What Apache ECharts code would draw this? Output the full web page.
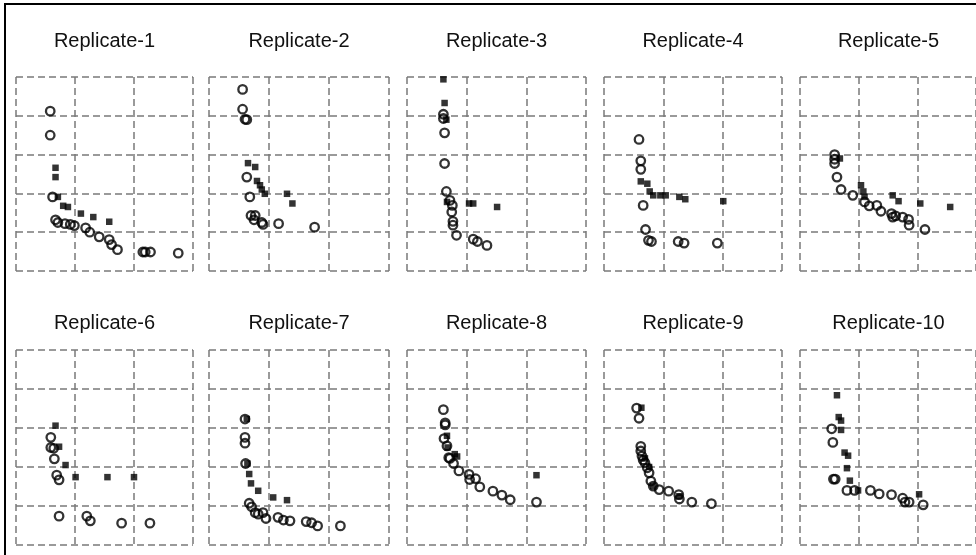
<!DOCTYPE html>
<html>
<head>
<meta charset="utf-8">
<script src="https://cdn.jsdelivr.net/npm/echarts@6/dist/echarts.min.js"></script>
<style>
html,body{margin:0;padding:0;background:#fff;}
#chart{width:976px;height:555px;}
</style>
</head>
<body>
<div id="chart"></div>
<script>
const panelTitles = ["Replicate-1","Replicate-2","Replicate-3","Replicate-4","Replicate-5",
                     "Replicate-6","Replicate-7","Replicate-8","Replicate-9","Replicate-10"];

const rep1Circles = [[0.58,4.12],[0.58,3.50],[0.62,1.91],[0.67,1.32],[0.71,1.25],[0.83,1.22],[0.92,1.20],[0.99,1.17],[1.18,1.11],[1.25,1.00],[1.41,0.88],[1.58,0.81],[1.62,0.68],[1.72,0.55],[2.15,0.49],[2.19,0.49],[2.28,0.49],[2.75,0.46]];
const rep1Squares = [[0.67,2.66],[0.67,2.42],[0.71,1.91],[0.80,1.68],[0.88,1.65],[1.10,1.48],[1.31,1.39],[1.58,1.27]];

const rep2Circles = [[0.56,4.68],[0.56,4.17],[0.60,3.91],[0.63,3.90],[0.63,2.42],[0.68,1.91],[0.70,1.43],[0.77,1.43],[0.75,1.32],[0.88,1.25],[0.90,1.20],[1.16,1.22],[1.76,1.13]];
const rep2Squares = [[0.65,2.78],[0.77,2.68],[0.80,2.32],[0.85,2.21],[0.88,2.10],[0.93,1.99],[1.30,1.99],[1.39,1.74]];

const rep3Circles = [[0.61,4.04],[0.61,3.93],[0.63,3.56],[0.63,2.77],[0.66,2.05],[0.72,1.82],[0.76,1.69],[0.75,1.52],[0.77,1.28],[0.77,1.18],[0.83,0.92],[1.11,0.82],[1.18,0.76],[1.34,0.66]];
const rep3Squares = [[0.61,4.94],[0.63,4.33],[0.66,3.90],[0.67,1.78],[1.04,1.74],[1.11,1.74],[1.51,1.65]];

const rep4Circles = [[0.59,3.39],[0.62,2.84],[0.62,2.62],[0.66,1.69],[0.70,1.07],[0.75,0.79],[0.80,0.76],[1.25,0.76],[1.35,0.72],[1.91,0.72]];
const rep4Squares = [[0.62,2.31],[0.73,2.25],[0.77,2.05],[0.83,1.95],[0.95,1.95],[1.04,1.95],[1.27,1.91],[1.37,1.85],[2.01,1.80]];

const rep5Circles = [[0.59,3.00],[0.59,2.88],[0.59,2.77],[0.63,2.42],[0.70,2.10],[0.90,1.95],[1.10,1.78],[1.18,1.68],[1.31,1.69],[1.38,1.54],[1.56,1.48],[1.58,1.39],[1.63,1.42],[1.75,1.39],[1.85,1.33],[1.86,1.18],[2.13,1.07]];
const rep5Squares = [[0.68,2.90],[1.04,2.21],[1.08,2.05],[1.10,1.91],[1.58,1.95],[1.68,1.80],[2.05,1.74],[2.56,1.65]];

const rep6Circles = [[0.59,2.76],[0.59,2.50],[0.64,2.48],[0.65,2.21],[0.69,1.79],[0.73,1.67],[0.73,0.74],[1.20,0.74],[1.26,0.62],[1.79,0.56],[2.27,0.56]];
const rep6Squares = [[0.67,3.06],[0.73,2.52],[0.84,2.05],[1.01,1.74],[1.55,1.74],[2.00,1.74]];

const rep7Circles = [[0.60,3.23],[0.60,2.76],[0.60,2.61],[0.61,2.09],[0.67,1.07],[0.71,0.98],[0.77,0.83],[0.82,0.79],[0.90,0.83],[0.95,0.68],[1.15,0.71],[1.24,0.64],[1.35,0.62],[1.62,0.60],[1.71,0.57],[1.81,0.49],[2.19,0.49]];
const rep7Squares = [[0.63,3.23],[0.64,2.09],[0.67,1.82],[0.70,1.58],[0.82,1.39],[1.07,1.22],[1.30,1.15]];

const rep8Circles = [[0.61,3.47],[0.64,3.13],[0.64,3.08],[0.62,2.73],[0.67,2.54],[0.70,2.24],[0.72,2.22],[0.78,2.09],[0.87,1.90],[1.04,1.81],[1.05,1.68],[1.15,1.70],[1.22,1.49],[1.44,1.38],[1.59,1.28],[1.73,1.16],[2.17,1.10]];
const rep8Squares = [[0.67,2.80],[0.68,2.50],[0.80,2.33],[0.84,2.27],[2.17,1.79]];

const rep9Circles = [[0.55,3.51],[0.59,3.25],[0.62,2.53],[0.62,2.41],[0.64,2.28],[0.66,2.18],[0.69,2.11],[0.73,1.98],[0.76,1.85],[0.79,1.64],[0.83,1.51],[0.93,1.42],[1.09,1.38],[1.26,1.29],[1.27,1.18],[1.48,1.10],[1.81,1.06]];
const rep9Squares = [[0.63,3.52],[0.69,2.22],[0.76,2.00],[0.83,1.51],[1.27,1.25]];

const rep10Circles = [[0.54,2.98],[0.56,2.63],[0.57,1.69],[0.60,1.69],[0.80,1.40],[0.93,1.40],[1.20,1.40],[1.35,1.31],[1.56,1.29],[1.75,1.20],[1.79,1.10],[1.86,1.10],[2.10,1.03]];
const rep10Squares = [[0.63,3.84],[0.66,3.28],[0.70,3.19],[0.70,2.95],[0.76,2.37],[0.82,2.29],[0.80,1.97],[0.85,1.65],[0.99,1.40],[2.03,1.30]];

const circleSets = [rep1Circles,rep2Circles,rep3Circles,rep4Circles,rep5Circles,rep6Circles,rep7Circles,rep8Circles,rep9Circles,rep10Circles];
const squareSets = [rep1Squares,rep2Squares,rep3Squares,rep4Squares,rep5Squares,rep6Squares,rep7Squares,rep8Squares,rep9Squares,rep10Squares];

const xTickValues = [0,1,2,3];
const yTickValues = [0,1,2,3,4,5];

// layout
const colLefts = [16, 209, 407, 604, 800];
const colWidths = [177, 180, 179, 178, 177];
const rowTops = [77, 350];
const rowHeights = [194, 195];
const titleY = [41, 323];

const chart = echarts.init(document.getElementById('chart'), null, {renderer:'canvas'});

const grids = [], xAxes = [], yAxes = [], series = [], graphics = [];
const dashed = {show:true, lineStyle:{color:'#7a7a7a', width:1.5, type:[7,4]}};

for (let i = 0; i < 10; i++) {
  const r = Math.floor(i/5), c = i % 5;
  grids.push({left: colLefts[c], top: rowTops[r], width: colWidths[c], height: rowHeights[r], containLabel:false});
  xAxes.push({gridIndex:i, type:'value', min:xTickValues[0], max:xTickValues[xTickValues.length-1], interval:1,
    axisLine:{show:false}, axisTick:{show:false}, axisLabel:{show:false}, splitLine:dashed});
  yAxes.push({gridIndex:i, type:'value', min:yTickValues[0], max:yTickValues[yTickValues.length-1], interval:1,
    axisLine:{show:false}, axisTick:{show:false}, axisLabel:{show:false}, splitLine:dashed});
  series.push({type:'scatter', xAxisIndex:i, yAxisIndex:i, data:squareSets[i], symbol:'rect', symbolSize:6.5,
    itemStyle:{color:'#000'}, silent:true, animation:false});
  series.push({type:'scatter', xAxisIndex:i, yAxisIndex:i, data:circleSets[i], symbol:'circle', symbolSize:8.5,
    itemStyle:{color:'rgba(0,0,0,0)', borderColor:'#000', borderWidth:2.3}, silent:true, animation:false});
  graphics.push({type:'text', x: colLefts[c] + colWidths[c]/2, y: titleY[r],
    style:{text: panelTitles[i], fill:'#111', font:'20px "Liberation Sans", Arial, sans-serif', textAlign:'center', textVerticalAlign:'middle'}});
}
graphics.push({type:'rect', shape:{x:5, y:4, width:1200, height:1000}, style:{fill:'none', stroke:'#000', lineWidth:2}, z:10});

chart.setOption({
  animation:false,
  backgroundColor:'#fff',
  grid: grids,
  xAxis: xAxes,
  yAxis: yAxes,
  series: series,
  graphic: graphics
});
</script>
</body>
</html>
